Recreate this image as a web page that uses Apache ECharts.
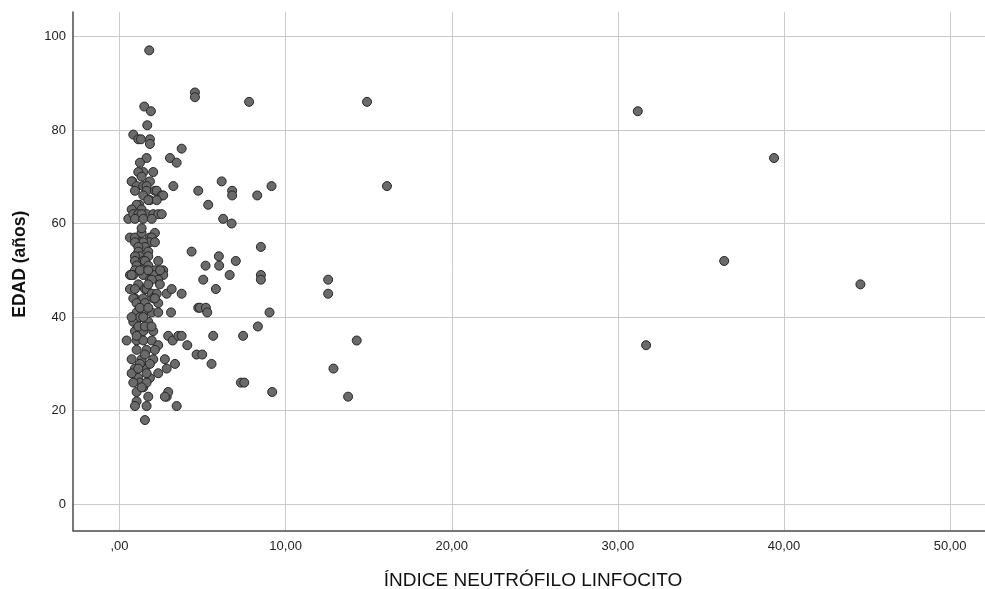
<!DOCTYPE html>
<html>
<head>
<meta charset="utf-8">
<title>EDAD vs ÍNDICE NEUTRÓFILO LINFOCITO</title>
<script src="https://cdn.jsdelivr.net/npm/echarts@6/dist/echarts.min.js"></script>
<style>
  html, body { margin: 0; padding: 0; background: #ffffff; }
  #chart { width: 985px; height: 589px; }
</style>
</head>
<body>
<div id="chart"></div>
<script>
// Índice neutrófilo/linfocito (INL) of each patient
const indiceNL = [
  1.79, 4.54, 4.54, 1.49, 1.89, 1.67, 0.83, 1.13, 1.29, 1.83, 1.83, 3.74, 1.63, 3.04, 3.44, 1.23,
  1.43, 2.03, 1.13, 1.33, 0.77, 1.83, 0.73, 3.24, 1.03, 1.43, 1.63, 4.74, 0.93, 1.63, 2.13, 2.24,
  2.54, 2.63, 1.43, 1.83, 2.24, 1.73, 1.19, 1.03, 1.33, 0.73, 0.53, 0.83, 1.13, 1.63, 2.03, 2.33,
  2.54, 1.33, 0.93, 1.43, 1.94,
  0.63, 0.93, 1.33, 1.83, 2.13, 1.94, 1.23, 1.83, 2.13, 1.43, 0.93, 1.53, 1.13, 1.73, 1.13, 1.23,
  1.73, 0.93, 4.34, 0.93, 1.43, 1.53, 2.33, 1.03, 1.73, 1.63, 2.63, 2.13, 0.93, 0.83, 1.43, 2.03,
  2.63, 0.63, 0.73, 1.23, 1.73, 2.44,
  1.13, 1.83, 2.33, 1.94, 0.63, 0.93, 1.53, 1.63, 1.94, 2.84, 3.14, 3.74, 2.24, 0.93, 1.43, 2.03,
  0.83, 2.33, 1.03, 1.53, 4.74, 3.10, 1.03, 1.43, 1.94, 2.33, 0.83, 1.23, 1.73, 0.93, 1.43, 2.03,
  0.43, 1.03, 1.43, 1.94, 2.33, 2.93, 3.20, 3.54, 3.74, 4.08, 4.64, 1.03, 1.63, 0.73, 1.33, 2.03,
  2.73, 3.34, 2.84, 0.93, 1.53, 2.33, 1.13, 1.83, 0.73, 1.43, 1.03, 1.73, 2.84, 2.93, 2.73, 1.03,
  0.93, 1.63, 3.44, 1.53, 1.13, 1.53, 1.23, 1.63, 1.23, 1.83, 1.53, 2.13, 1.23, 1.73,
  1.33, 1.13, 1.63, 0.83, 1.93, 1.43, 2.13, 1.73, 1.03, 0.73, 2.43, 1.33,
  7.80, 14.90, 16.10, 6.15, 6.78, 6.78, 5.34, 8.29, 9.15, 6.24, 6.75, 8.51, 5.98, 5.18, 6.00, 7.00,
  5.04, 6.63, 8.51, 8.51, 5.80, 4.84, 5.20, 5.28, 9.03, 8.33, 5.64, 7.44, 4.98, 5.54, 7.31, 7.51,
  9.19, 12.56, 12.56, 14.28, 12.88, 13.76,
  31.20, 39.40, 36.40, 44.60, 31.70
];

// EDAD (años) of the same patients, in the same order
const edad = [
  97, 88, 87, 85, 84, 81, 79, 78, 78, 78, 77, 76, 74, 74, 73, 73,
  71, 71, 71, 70, 69, 69, 69, 68, 68, 68, 68, 67, 67, 67, 67, 67,
  66, 66, 66, 65, 65, 65, 64, 64, 63, 63, 61, 62, 62, 62, 62, 62,
  62, 62, 61, 61, 61,
  57, 57, 58, 57, 58, 57, 56, 56, 56, 56, 56, 55, 55, 54, 54, 53,
  53, 53, 54, 52, 52, 52, 52, 51, 51, 50, 50, 50, 50, 49, 49, 49,
  49, 49, 49, 50, 50, 50,
  47, 48, 48, 48, 46, 46, 46, 46, 45, 45, 46, 45, 45, 44, 44, 44,
  44, 43, 43, 43, 42, 41, 41, 41, 41, 41, 39, 40, 39, 37, 37, 37,
  35, 35, 35, 35, 34, 36, 35, 36, 36, 34, 32, 33, 33, 31, 31, 31,
  31, 30, 29, 29, 29, 28, 27, 27, 28, 25, 24, 23, 23, 24, 23, 22,
  21, 21, 21, 18, 38, 38, 26, 26, 30, 30, 32, 33, 42, 42,
  25, 29, 28, 26, 38, 40, 44, 47, 36, 40, 47, 59,
  86, 86, 68, 69, 67, 66, 64, 66, 68, 61, 60, 55, 53, 51, 51, 52,
  48, 49, 49, 48, 46, 42, 42, 41, 41, 38, 36, 36, 32, 30, 26, 26,
  24, 48, 45, 35, 29, 23,
  84, 74, 52, 47, 34
];

// Tick positions shown on each axis
const xTicks = [0, 10, 20, 30, 40, 50];
const yTicks = [0, 20, 40, 60, 80, 100];

const points = indiceNL.map((v, i) => [v, edad[i]]);

const fmtComma = v => {
  const s = v.toFixed(2).replace('.', ',');
  return s.startsWith('0,') ? s.slice(1) : s;
};

const chart = echarts.init(document.getElementById('chart'), null, { renderer: 'canvas' });

chart.setOption({
  backgroundColor: '#ffffff',
  animation: false,
  grid: {
    left: 73, right: 0, top: 12, bottom: 58.5,
    containLabel: false,
    outerBoundsMode: 'none'
  },
  xAxis: {
    type: 'value',
    min: -2.8,
    max: 52.1,
    name: 'ÍNDICE NEUTRÓFILO LINFOCITO',
    nameLocation: 'middle',
    nameGap: 41,
    nameTextStyle: { fontFamily: 'Liberation Sans, Arial, sans-serif', fontSize: 19, color: '#111111', padding: [0, 0, 0, 8] },
    axisLine: { onZero: false, lineStyle: { color: '#4a4a4a', width: 1.5 } },
    axisTick: { show: false, customValues: xTicks },
    axisLabel: {
      customValues: xTicks,
      formatter: fmtComma,
      margin: 9,
      fontFamily: 'Liberation Sans, Arial, sans-serif',
      fontSize: 13,
      color: '#222222'
    },
    splitLine: { show: true, lineStyle: { color: '#cacaca', width: 1 } }
  },
  yAxis: {
    type: 'value',
    min: -5.6,
    max: 105.2,
    name: 'EDAD (años)',
    nameLocation: 'middle',
    nameRotate: 90,
    nameGap: 44,
    nameTextStyle: { fontFamily: 'Liberation Sans, Arial, sans-serif', fontSize: 17.5, fontWeight: 'bold', color: '#111111', padding: [0, 0, 0, 14] },
    axisLine: { onZero: false, lineStyle: { color: '#4a4a4a', width: 1.5 } },
    axisTick: { show: false, customValues: yTicks },
    axisLabel: {
      customValues: yTicks,
      margin: 7,
      fontFamily: 'Liberation Sans, Arial, sans-serif',
      fontSize: 13,
      color: '#222222'
    },
    splitLine: { show: true, lineStyle: { color: '#cacaca', width: 1 } }
  },
  series: [{
    type: 'scatter',
    data: points,
    symbol: 'circle',
    symbolSize: 9,
    itemStyle: { color: '#6a6a6a', borderColor: '#262626', borderWidth: 1, opacity: 1 },
    emphasis: { disabled: true }
  }]
});
</script>
</body>
</html>
